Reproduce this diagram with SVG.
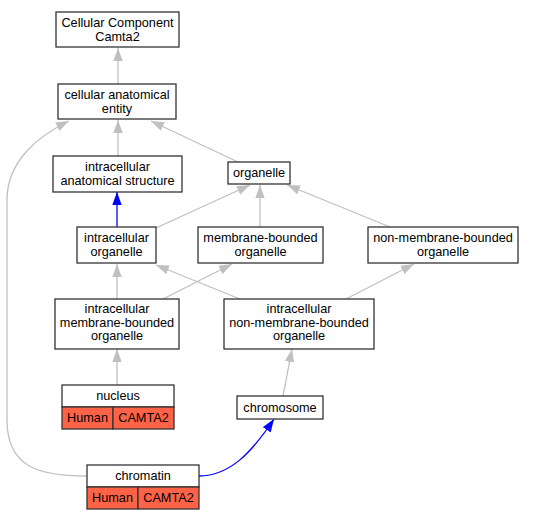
<svg xmlns="http://www.w3.org/2000/svg" width="534" height="520" viewBox="0 0 534 520">
<defs>
<style>
text{font-family:"Liberation Sans",Arial,sans-serif;font-size:12.7px;text-anchor:middle;fill:#000}
.box{fill:#fff;stroke:#333;stroke-width:1.3}
.red{fill:#ff6347;stroke:#333;stroke-width:1.3}
.e{fill:none;stroke:#c0c0c0;stroke-width:1.3}
.b{fill:none;stroke:#0000ff;stroke-width:1.3}
</style>
<marker id="ag" viewBox="0 0 13 10" refX="13" refY="5" markerWidth="13" markerHeight="10" orient="auto" markerUnits="userSpaceOnUse"><path d="M0,0.3L13,5L0,9.7z" fill="#c0c0c0"/></marker>
<marker id="ab" viewBox="0 0 13 10" refX="13" refY="5" markerWidth="13" markerHeight="10" orient="auto" markerUnits="userSpaceOnUse"><path d="M0,0.3L13,5L0,9.7z" fill="#0000ff"/></marker>
</defs>
<rect width="534" height="520" fill="#fff"/>
<g id="edges">
<path class="e" marker-end="url(#ag)" d="M118,84L118,48"/>
<path class="e" marker-end="url(#ag)" d="M118,156L118,120"/>
<path class="e" marker-end="url(#ag)" d="M238,162L151,121"/>
<path class="e" marker-end="url(#ag)" d="M87,476C40,476 7,468 7,420L7,200C7,160 40,135 69,121"/>
<path class="b" marker-end="url(#ab)" d="M117,227L117,192"/>
<path class="e" marker-end="url(#ag)" d="M156,228L250,185"/>
<path class="e" marker-end="url(#ag)" d="M260,227L260,185"/>
<path class="e" marker-end="url(#ag)" d="M390,227L287,185"/>
<path class="e" marker-end="url(#ag)" d="M117,299L117,264"/>
<path class="e" marker-end="url(#ag)" d="M163,299L232,264"/>
<path class="e" marker-end="url(#ag)" d="M240,299L156,265"/>
<path class="e" marker-end="url(#ag)" d="M346,299L414,264"/>
<path class="e" marker-end="url(#ag)" d="M117,385L117,349"/>
<path class="e" marker-end="url(#ag)" d="M283,396L292,349"/>
<path class="b" marker-end="url(#ab)" d="M199,476C230,476 252,452 274,419"/>
</g>
<g id="n_root"><rect class="box" x="56" y="12" width="123" height="35"/><text x="117.5" y="27">Cellular Component</text><text x="117.5" y="40.5">Camta2</text></g>
<g id="n_cae"><rect class="box" x="58" y="84" width="118" height="35"/><text x="117" y="99">cellular anatomical</text><text x="117" y="112.5">entity</text></g>
<g id="n_ias"><rect class="box" x="53" y="156" width="129" height="36"/><text x="117.5" y="171">intracellular</text><text x="117.5" y="184.5">anatomical structure</text></g>
<g id="n_org"><rect class="box" x="228" y="162" width="62" height="22"/><text x="259" y="177">organelle</text></g>
<g id="n_io"><rect class="box" x="77" y="227" width="79" height="36"/><text x="116.5" y="242">intracellular</text><text x="116.5" y="255.5">organelle</text></g>
<g id="n_mbo"><rect class="box" x="198" y="227" width="125" height="36"/><text x="260.5" y="242">membrane-bounded</text><text x="260.5" y="255.5">organelle</text></g>
<g id="n_nmbo"><rect class="box" x="368" y="227" width="150" height="36"/><text x="443" y="242">non-membrane-bounded</text><text x="443" y="255.5">organelle</text></g>
<g id="n_imbo"><rect class="box" x="55" y="299" width="124" height="50"/><text x="117" y="313">intracellular</text><text x="117" y="326.5">membrane-bounded</text><text x="117" y="340">organelle</text></g>
<g id="n_inmbo"><rect class="box" x="224" y="299" width="150" height="50"/><text x="299" y="313">intracellular</text><text x="299" y="326.5">non-membrane-bounded</text><text x="299" y="340">organelle</text></g>
<g id="n_nucleus"><rect class="box" x="62" y="385" width="112" height="22"/><text x="118" y="400">nucleus</text><rect class="red" x="62" y="407" width="51" height="22"/><rect class="red" x="113" y="407" width="61" height="22"/><text x="87.5" y="422">Human</text><text x="143.5" y="422">CAMTA2</text></g>
<g id="n_chromosome"><rect class="box" x="237" y="396" width="86" height="23"/><text x="280" y="411.5">chromosome</text></g>
<g id="n_chromatin"><rect class="box" x="87" y="465" width="112" height="22"/><text x="143" y="480">chromatin</text><rect class="red" x="87" y="487" width="51" height="22"/><rect class="red" x="138" y="487" width="61" height="22"/><text x="112.5" y="502">Human</text><text x="168.5" y="502">CAMTA2</text></g>
</svg>
